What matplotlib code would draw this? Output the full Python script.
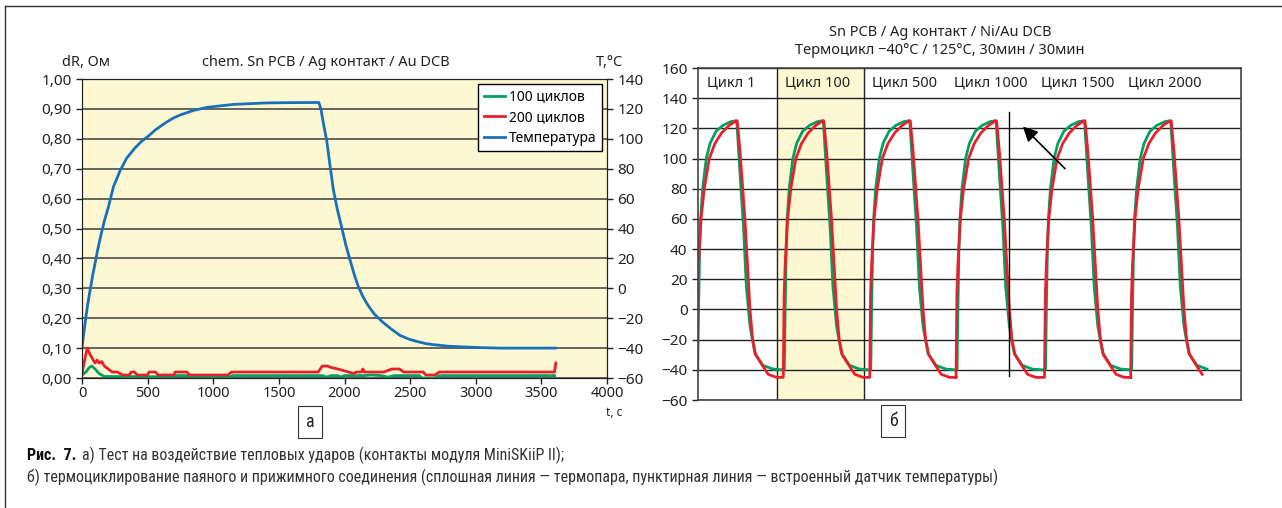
import matplotlib

matplotlib.use("Agg")
import matplotlib.pyplot as plt
import numpy as np
from matplotlib.lines import Line2D

W, H = 1282, 508

YELLOW = "#fdf8d2"
GREEN = "#00a064"
RED = "#e8202a"
BLUE = "#1870ba"
GRID = "#3c3c3c"
TEXT = "#222222"

# panel a: thermal shock, temperature in degC over time in s
temp_t = [0, 15, 30, 45, 64, 80, 100, 120, 140, 170, 200, 240, 292, 340, 400,
          450, 508, 560, 600, 650, 699, 750, 800, 850, 902, 950, 1000, 1080,
          1156, 1250, 1410, 1600, 1804, 1820, 1840, 1864, 1890, 1915, 1945,
          1978, 2010, 2042, 2075, 2106, 2140, 2169, 2200, 2230, 2296, 2360,
          2423, 2490, 2550, 2620, 2677, 2800, 2931, 3050, 3185, 3400, 3605]
temp_c = [-40, -29, -19, -10, 0, 8, 17, 26, 34, 45, 54, 68, 79, 87, 93.5,
          98, 102, 106, 108.5, 111.5, 114, 116, 117.5, 119, 120, 121, 121.5, 122.3,
          123, 123.4, 124, 124.2, 124.3, 120, 110, 99, 82, 66, 53,
          41, 29, 19, 9, 1, -5.5, -10, -14, -17.5, -23, -27.5,
          -31.5, -34, -35.5, -37, -37.7, -38.8, -39.3, -39.7, -40, -40, -40]

# contact resistance change dR, Ohm
r100_t = [0, 30, 55, 75, 100, 130, 170, 700, 720, 810, 830, 1120, 1150, 1830,
          1860, 1900, 1950, 1970, 2000, 2150, 2200, 2280, 2330, 2380, 2570,
          2590, 2690, 2720, 3600]
r100 = [0.01, 0.02, 0.035, 0.04, 0.03, 0.015, 0.005, 0.004, 0.008, 0.008,
        0.003, 0.003, 0.008, 0.008, 0.003, 0.008, 0.008, 0.003, 0.008, 0.008,
        0.01, 0.008, 0.003, 0.008, 0.008, 0.0, 0.0, 0.008, 0.008]

r200_t = [0, 20, 40, 60, 85, 100, 115, 130, 150, 170, 200, 230, 270, 290, 310,
          360, 375, 400, 420, 500, 510, 560, 580, 700, 710, 800, 820, 1110,
          1140, 1800, 1830, 1870, 1900, 1950, 1990, 2030, 2070, 2090, 2130,
          2140, 2150, 2300, 2360, 2420, 2450, 2600, 2620, 2690, 2720, 3600, 3610]
r200 = [0.015, 0.06, 0.10, 0.08, 0.06, 0.05, 0.06, 0.05, 0.055, 0.04, 0.03,
        0.02, 0.02, 0.015, 0.01, 0.01, 0.02, 0.02, 0.01, 0.01, 0.02, 0.02,
        0.01, 0.01, 0.02, 0.02, 0.01, 0.01, 0.02, 0.02, 0.04, 0.04, 0.035,
        0.03, 0.025, 0.02, 0.015, 0.02, 0.02, 0.03, 0.02, 0.02, 0.03, 0.03,
        0.02, 0.02, 0.01, 0.01, 0.02, 0.02, 0.05]

dr_ticks = [0.0, 0.1, 0.2, 0.3, 0.4, 0.5, 0.6, 0.7, 0.8, 0.9, 1.0]
dr_labels = ["0,00", "0,10", "0,20", "0,30", "0,40", "0,50", "0,60", "0,70",
             "0,80", "0,90", "1,00"]
temp_ticks = [-60, -40, -20, 0, 20, 40, 60, 80, 100, 120, 140]
time_ticks = [0, 500, 1000, 1500, 2000, 2500, 3000, 3500, 4000]

# panel b: thermal cycling, time in min, one cycle shape relative to its peak
cycle_names = ["Цикл 1", "Цикл 100", "Цикл 500", "Цикл 1000", "Цикл 1500", "Цикл 2000"]
cycle_label_x = [6, 60, 120, 177, 237, 297]
cycle_peak = [26.2, 86.0, 145.7, 205.3, 266.4, 325.9]
column_edges = [54.5, 114.5]
green_stop, red_stop = 357.6, 351.9

green_dt = [-26.4, -25.8, -25.1, -24.4, -23.0, -20.5, -17.9, -13.8, -9.0, -3.4,
            0.0, 0.7, 2.8, 5.2, 7.2, 9.7, 13.1, 18.6, 25.5, 32.4]
green_c = [-40, 0, 40, 60, 80, 100, 110, 118, 122, 124.5,
           125, 123, 90, 55, 15, -11, -29, -37, -39.5, -40]
red_dt = [-27.1, -26.5, -25.8, -24.1, -21.9, -18.4, -14.5, -9.9, -4.6, 0.0,
          0.9, 2.8, 6.2, 9.7, 11.5, 13.6, 18.9, 22.3, 28.0, 32.6]
red_c = [-45, 10, 30, 60, 80, 100, 110, 117, 122, 125,
         125, 105, 60, 0, -20, -30, -38, -43, -45, -45]

marker_x, marker_lo, marker_hi = 214.7, -44, 131
arrow_tail, arrow_head = (254.8, 92), (223, 122.5)


def fx(x):
    return x / W


def fy(y):
    return 1 - y / H


plt.rcParams["font.family"] = ["Noto Sans", "DejaVu Sans"]
narrow = dict(family=["Roboto Condensed", "Liberation Sans Narrow", "DejaVu Sans"],
              stretch="condensed")

fig = plt.figure(figsize=(W / 100, H / 100), dpi=100)

# ---- panel a ----
ax_a = fig.add_axes([fx(82), fy(378), (607 - 82) / W, (378 - 79) / H])
ax_a.set_facecolor(YELLOW)
ax_a.set_xlim(0, 4000)
ax_a.set_ylim(0, 1)
ax_a.set_yticks(dr_ticks)
ax_a.set_yticklabels(dr_labels)
ax_a.set_xticks(time_ticks)
ax_a.yaxis.grid(True, color=GRID, lw=1.1)
ax_a.set_axisbelow(True)
ax_a.tick_params(direction="out", length=4, width=1, colors=TEXT, labelsize=11)
ax_a.tick_params(axis="x", labelsize=10.5, pad=2)
for s in ax_a.spines.values():
    s.set_color(TEXT)
l100, = ax_a.plot(r100_t, r100, color=GREEN, lw=2)
l200, = ax_a.plot(r200_t, r200, color=RED, lw=2)

ax_t = ax_a.twinx()
ax_t.set_ylim(-60, 140)
ax_t.set_yticks(temp_ticks)
ax_t.tick_params(direction="out", length=4, width=1, colors=TEXT, labelsize=11)
for s in ax_t.spines.values():
    s.set_color(TEXT)
lt, = ax_t.plot(temp_t, temp_c, color=BLUE, lw=2)

leg = ax_t.legend([l100, l200, lt], ["100 циклов", "200 циклов", "Температура"],
                  loc="upper right", bbox_to_anchor=(fx(602), fy(84)),
                  bbox_transform=fig.transFigure, borderaxespad=0, fontsize=10,
                  fancybox=False, framealpha=1, edgecolor="black", handlelength=1.5,
                  handletextpad=0.3, labelspacing=0.4, borderpad=0.4)
leg.get_frame().set_linewidth(1)

fig.text(fx(86), fy(62), "dR, Ом", ha="center", va="center", fontsize=10.5, color=TEXT)
fig.text(fx(326), fy(62), "chem. Sn PCB / Ag контакт / Au DCB", ha="center",
         va="center", fontsize=10.5, color=TEXT)
fig.text(fx(610), fy(62), "T,°C", ha="center", va="center", fontsize=10.5, color=TEXT)
fig.text(fx(614), fy(413), "t, c", ha="center", va="center", fontsize=8.5, color=TEXT)

# ---- panel b ----
ax_b = fig.add_axes([fx(698), fy(400), (1241 - 698) / W, (400 - 68) / H])
ax_b.set_xlim(0, 375)
ax_b.set_ylim(-60, 160)
ax_b.set_yticks(range(-60, 161, 20))
ax_b.set_xticks([])
ax_b.yaxis.grid(True, color="#222222", lw=1)
ax_b.set_axisbelow(True)
ax_b.tick_params(direction="out", length=4, width=1, colors=TEXT, labelsize=11)
for s in ax_b.spines.values():
    s.set_color("#444444")
    s.set_linewidth(1.2)
ax_b.axvspan(column_edges[0], column_edges[1], color=YELLOW, zorder=0)
for x in column_edges:
    ax_b.axvline(x, color="#222222", lw=1)

for name, x in zip(cycle_names, cycle_label_x):
    ax_b.text(x, 150, name, ha="left", va="center", fontsize=10.5, color=TEXT)

g_t = np.concatenate([np.array(green_dt) + p for p in cycle_peak])
g_c = np.tile(green_c, len(cycle_peak))
r_t = np.concatenate([np.array(red_dt) + p for p in cycle_peak])
r_c = np.tile(red_c, len(cycle_peak))
ax_b.plot(g_t[g_t <= green_stop], g_c[g_t <= green_stop], color=GREEN, lw=2)
ax_b.plot(r_t[r_t <= red_stop], r_c[r_t <= red_stop], color=RED, lw=2)

ax_b.plot([marker_x, marker_x], [marker_lo, marker_hi], color="black", lw=1)
ax_b.annotate("", xy=arrow_head, xytext=arrow_tail,
              arrowprops=dict(arrowstyle="-|>", color="black", lw=1.2, mutation_scale=22))

fig.text(fx(940), fy(32), "Sn PCB / Ag контакт / Ni/Au DCB", ha="center",
         va="center", fontsize=10.5, color=TEXT)
fig.text(fx(940), fy(50), "Термоцикл −40°C / 125°C, 30мин / 30мин", ha="center",
         va="center", fontsize=10.5, color=TEXT)

# panel letters
box = dict(boxstyle="square,pad=0.4", fc="white", ec="#333333", lw=0.8)
fig.text(fx(310), fy(422), "а", ha="center", va="center", fontsize=13,
         color=TEXT, bbox=box, **narrow)
fig.text(fx(893), fy(421), "б", ha="center", va="center", fontsize=13,
         color=TEXT, bbox=box, **narrow)

# caption, shrunk to the available width if the narrow face is missing
renderer = fig.canvas.get_renderer()
cap2 = fig.text(fx(27), fy(477),
                "б) термоциклирование паяного и прижимного соединения (сплошная линия — "
                "термопара, пунктирная линия — встроенный датчик температуры)",
                ha="left", va="center", fontsize=12, color="#333333", **narrow)
width = cap2.get_window_extent(renderer).width
size = 12 * min(1.0, 978 / width)
cap2.set_fontsize(size)
fig_label = fig.text(fx(27), fy(455), "Рис.  7.", ha="left", va="center",
                     fontsize=size, weight="bold", color="#111111", **narrow)
x_end = fig_label.get_window_extent(renderer).x1
fig.text((x_end + 6) / W, fy(455),
         "а) Тест на воздействие тепловых ударов (контакты модуля MiniSKiiP II);",
         ha="left", va="center", fontsize=size, color="#333333", **narrow)

# outer frame
fig.add_artist(Line2D([fx(5), fx(1282)], [fy(6), fy(6)], color="#333333", lw=1))
fig.add_artist(Line2D([fx(5), fx(5)], [fy(6), fy(508)], color="#333333", lw=1))

fig.savefig("out.png", dpi=100)
